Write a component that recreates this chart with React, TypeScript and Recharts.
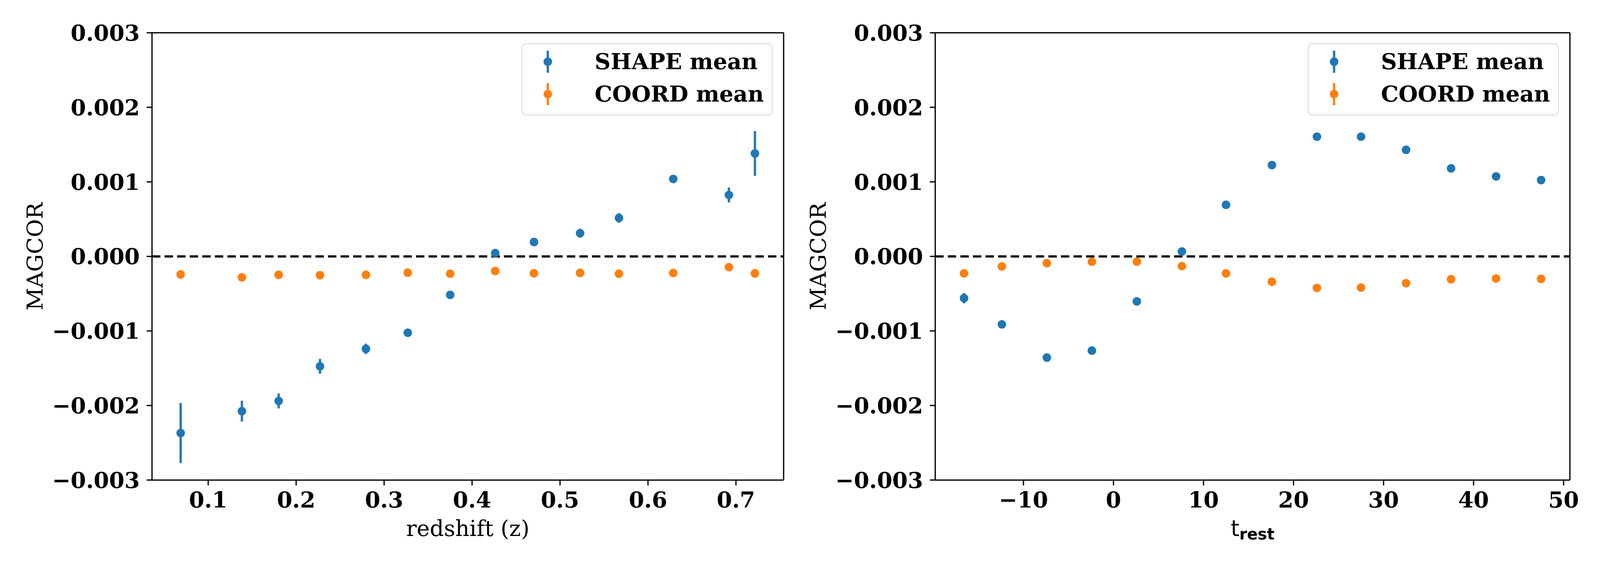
import React from "react";
import {
  ScatterChart,
  Scatter,
  XAxis,
  YAxis,
  ErrorBar,
  ReferenceLine,
  Legend,
} from "recharts";

// left panel: binned in redshift
const redshiftZ = [
  0.0687, 0.1383, 0.1801, 0.2271, 0.2793, 0.3269, 0.3751, 0.4263, 0.4704,
  0.5228, 0.567, 0.6287, 0.692, 0.7216,
];
const shapeByZ = [
  -0.002369, -0.002076, -0.001939, -0.001474, -0.00124, -0.001024, -0.000516,
  0.000044, 0.000193, 0.000311, 0.000516, 0.001039, 0.000824, 0.001381,
];
const shapeByZErr = [
  0.000403, 0.00014, 0.0001, 0.0001, 0.00007, 0.00003, 0.00003, 0.00002,
  0.00002, 0.00006, 0.000065, 0.00003, 0.0001, 0.0003,
];
const coordByZ = [
  -0.000242, -0.000281, -0.000247, -0.000252, -0.000247, -0.000218, -0.000232,
  -0.000196, -0.000226, -0.000221, -0.000232, -0.000222, -0.000144, -0.000227,
];
const coordByZErr = [
  0.00002, 0.00002, 0.00002, 0.00002, 0.00002, 0.00002, 0.00002, 0.00002,
  0.00002, 0.00002, 0.00002, 0.00002, 0.00003, 0.00006,
];

// right panel: binned in rest-frame phase
const tRest = [
  -16.6, -12.4, -7.4, -2.4, 2.6, 7.6, 12.5, 17.6, 22.6, 27.5, 32.5, 37.5, 42.5,
  47.5,
];
const shapeByT = [
  -0.00056, -0.000912, -0.001357, -0.001264, -0.000604, 0.000066, 0.000692,
  0.001225, 0.001606, 0.001606, 0.00143, 0.001181, 0.001073, 0.001024,
];
const shapeByTErr = [
  0.00007, 0.00004, 0.00003, 0.00003, 0.00003, 0.00004, 0.00003, 0.00003,
  0.00003, 0.00003, 0.00003, 0.00003, 0.00004, 0.00003,
];
const coordByT = [
  -0.000227, -0.000134, -0.00009, -0.000071, -0.000071, -0.00013, -0.000227,
  -0.00034, -0.000423, -0.000418, -0.000359, -0.000306, -0.000296, -0.000301,
];
const coordByTErr = [
  0.00003, 0.00003, 0.00003, 0.00003, 0.00003, 0.00003, 0.00003, 0.00003,
  0.00003, 0.00003, 0.00003, 0.00003, 0.00003, 0.00003,
];

const yTicks = [-0.003, -0.002, -0.001, 0, 0.001, 0.002, 0.003];
const zTicks = [0.1, 0.2, 0.3, 0.4, 0.5, 0.6, 0.7];
const tTicks = [-10, 0, 10, 20, 30, 40, 50];
const seriesNames = ["SHAPE mean", "COORD mean"];

const BLUE = "#1f77b4";
const ORANGE = "#ff7f0e";
const SERIF = "DejaVu Serif";
const SANS = "DejaVu Sans";

const toPoints = (xs: number[], ys: number[], errs: number[]) =>
  xs.map((x, i) => ({ x, y: ys[i], err: errs[i] }));

const minus = (s: string) => s.replace("-", "\u2212");

const tickStyle = {
  fontSize: 58,
  fontFamily: SERIF,
  fontWeight: "bold",
  fill: "#000",
};
const lineStyle = { stroke: "#000", strokeWidth: 3.3 };

const dot = (color: string) => (props: any) =>
  <circle cx={props.cx} cy={props.cy} r={11.2} fill={color} />;

const LegendBox = ({ payload }: { payload?: any[] }) => {
  const entries = [...(payload || [])].sort(
    (a, b) => seriesNames.indexOf(a.value) - seriesNames.indexOf(b.value)
  );
  return (
    <div
      style={{
        position: "relative",
        width: 659,
        height: 189,
        boxSizing: "border-box",
        border: "2.7px solid #d6d6d6",
        borderRadius: 12,
        background: "rgba(255,255,255,0.8)",
      }}
    >
      {entries.map((entry, i) => {
        const cy = 46 + 85 * i;
        return (
          <React.Fragment key={entry.value}>
            <svg
              width={30}
              height={60}
              style={{ position: "absolute", left: 52, top: cy - 30 }}
            >
              <line x1={15} x2={15} y1={1} y2={59} stroke={entry.color} strokeWidth={6} />
              <circle cx={15} cy={30} r={11.2} fill={entry.color} />
            </svg>
            <div
              style={{
                position: "absolute",
                left: 190,
                top: cy - 29,
                height: 58,
                lineHeight: "58px",
                fontSize: 58,
                fontFamily: SERIF,
                fontWeight: "bold",
                whiteSpace: "nowrap",
                color: "#000",
              }}
            >
              {entry.value}
            </div>
          </React.Fragment>
        );
      })}
    </div>
  );
};

const yTitle = (props: any) => {
  const vb = props.viewBox;
  const x = vb.x + vb.width - 308;
  const y = vb.y + vb.height / 2;
  return (
    <text
      x={x}
      y={y}
      transform={`rotate(-90, ${x}, ${y})`}
      textAnchor="middle"
      dominantBaseline="central"
      fontFamily={SERIF}
      fontSize={58}
      fill="#000"
    >
      MAGCOR
    </text>
  );
};

const zTitle = (props: any) => {
  const vb = props.viewBox;
  return (
    <text
      x={vb.x + vb.width / 2}
      y={vb.y + 147}
      textAnchor="middle"
      fontFamily={SERIF}
      fontSize={58}
      fill="#000"
    >
      redshift (z)
    </text>
  );
};

const tTitle = (props: any) => {
  const vb = props.viewBox;
  return (
    <text
      x={vb.x + vb.width / 2}
      y={vb.y + 147}
      textAnchor="middle"
      fontFamily={SANS}
      fontSize={58}
      fill="#000"
    >
      <tspan>t</tspan>
      <tspan fontSize={41} fontWeight="bold" dy={9}>
        rest
      </tspan>
    </text>
  );
};

type PanelProps = {
  xDomain: [number, number];
  xTicks: number[];
  xFormat: (v: number) => string;
  xTitle: (props: any) => React.ReactElement;
  shape: { x: number; y: number; err: number }[];
  coord: { x: number; y: number; err: number }[];
  yAxisWidth: number;
  rightMargin: number;
  legendLeft: number;
};

const Panel = ({
  xDomain,
  xTicks,
  xFormat,
  xTitle,
  shape,
  coord,
  yAxisWidth,
  rightMargin,
  legendLeft,
}: PanelProps) => (
  <ScatterChart
    width={2100}
    height={1500}
    margin={{ top: 86, right: rightMargin, bottom: 0, left: 0 }}
  >
    <XAxis
      dataKey="x"
      type="number"
      domain={xDomain}
      allowDataOverflow
      ticks={xTicks}
      tickFormatter={xFormat}
      height={240}
      tickSize={14}
      tickMargin={17}
      tick={tickStyle}
      axisLine={lineStyle}
      tickLine={lineStyle}
      label={xTitle}
    />
    <YAxis
      dataKey="y"
      type="number"
      domain={[-0.003, 0.003]}
      allowDataOverflow
      ticks={yTicks}
      tickFormatter={(v: number) => minus(v.toFixed(3))}
      width={yAxisWidth}
      tickSize={14}
      tickMargin={18}
      tick={tickStyle}
      axisLine={lineStyle}
      tickLine={lineStyle}
      label={yTitle}
    />
    {/* top and right spines */}
    <ReferenceLine y={0.003} stroke="#000" strokeWidth={3.3} />
    <ReferenceLine x={xDomain[1]} stroke="#000" strokeWidth={3.3} />
    <ReferenceLine y={0} stroke="#000" strokeWidth={6} strokeDasharray="22 11" />
    <Scatter
      name="SHAPE mean"
      data={shape}
      fill={BLUE}
      shape={dot(BLUE)}
      isAnimationActive={false}
    >
      <ErrorBar
        dataKey="err"
        direction="y"
        width={0}
        stroke={BLUE}
        strokeWidth={6}
        isAnimationActive={false}
      />
    </Scatter>
    <Scatter
      name="COORD mean"
      data={coord}
      fill={ORANGE}
      shape={dot(ORANGE)}
      isAnimationActive={false}
    >
      <ErrorBar
        dataKey="err"
        direction="y"
        width={0}
        stroke={ORANGE}
        strokeWidth={6}
        isAnimationActive={false}
      />
    </Scatter>
    <Legend
      layout="vertical"
      align="center"
      verticalAlign="middle"
      content={<LegendBox />}
      wrapperStyle={{ position: "absolute", left: legendLeft, top: 114, width: 659, height: 189 }}
    />
  </ScatterChart>
);

export default function App() {
  // fit the 4200x1500 figure into whatever CSS viewport the page actually has
  const fit =
    typeof window !== "undefined"
      ? Math.min(1, window.innerWidth / 4200, window.innerHeight / 1500)
      : 1;
  return (
    <div
      style={{
        position: "absolute",
        left: 0,
        top: 0,
        width: 4200,
        height: 1500,
        background: "#fff",
        transform: `scale(${fit})`,
        transformOrigin: "0 0",
      }}
    >
      <div style={{ position: "absolute", left: 0, top: 0 }}>
        <Panel
          xDomain={[0.0361, 0.7542]}
          xTicks={zTicks}
          xFormat={(v) => v.toFixed(1)}
          xTitle={zTitle}
          shape={toPoints(redshiftZ, shapeByZ, shapeByZErr)}
          coord={toPoints(redshiftZ, coordByZ, coordByZErr)}
          yAxisWidth={399}
          rightMargin={43}
          legendLeft={1369}
        />
      </div>
      <div style={{ position: "absolute", left: 2100, top: 0 }}>
        <Panel
          xDomain={[-19.8, 50.7]}
          xTicks={tTicks}
          xFormat={(v) => minus(String(v))}
          xTitle={tTitle}
          shape={toPoints(tRest, shapeByT, shapeByTErr)}
          coord={toPoints(tRest, coordByT, coordByTErr)}
          yAxisWidth={355}
          rightMargin={79}
          legendLeft={1333}
        />
      </div>
    </div>
  );
}
